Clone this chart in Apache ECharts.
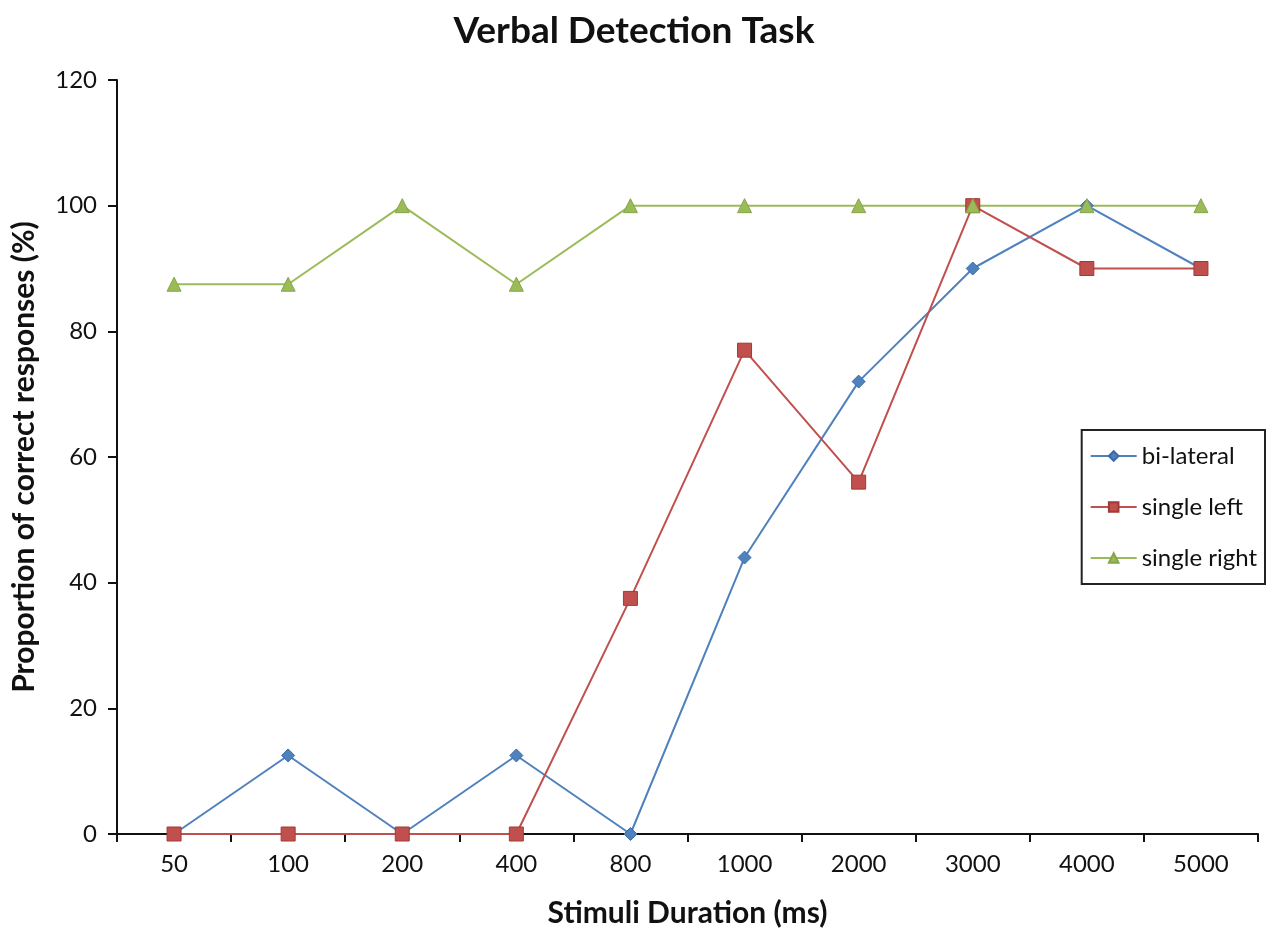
<!DOCTYPE html>
<html><head><meta charset="utf-8">
<script src="https://cdn.jsdelivr.net/npm/echarts@6/dist/echarts.min.js"></script>
<style>html,body{margin:0;padding:0;background:#fff}#c{width:1268px;height:929px}</style>
</head><body><div id="c"></div>
<script>
const categories = ['50','100','200','400','800','1000','2000','3000','4000','5000'];
const biLateral = [0, 12.5, 0, 12.5, 0, 44, 72, 90, 100, 90];
const singleLeft = [0, 0, 0, 0, 37.5, 77, 56, 100, 90, 90];
const singleRight = [87.5, 87.5, 100, 87.5, 100, 100, 100, 100, 100, 100];
const yTicks = [0, 20, 40, 60, 80, 100, 120];

const FONT = 'Lato, "Open Sans", sans-serif';
const chart = echarts.init(document.getElementById('c'));
function mk(name, data, color, symbol, size, border) {
  return {
    name, type: 'line', data, symbol, symbolSize: size,
    lineStyle: { color, width: 2 },
    itemStyle: { color, borderColor: border, borderWidth: 1 },
    emphasis: { disabled: true }
  };
}
chart.setOption({
  animation: false,
  textStyle: { fontFamily: FONT },
  title: {
    text: 'Verbal Detection Task', left: 'center', top: 8,
    textStyle: { fontFamily: FONT, fontSize: 37, fontWeight: 'bold', color: '#111' }
  },
  grid: { left: 117, right: 10, top: 80, bottom: 95, outerBoundsMode: 'none', containLabel: false },
  legend: {
    orient: 'vertical', right: 3, top: 430,
    padding: [14, 8, 14, 8], itemGap: 27,
    borderColor: '#222', borderWidth: 2,
    itemWidth: 46, itemHeight: 12,
    textStyle: { fontFamily: FONT, fontSize: 24, color: '#111' },
    data: ['bi-lateral', 'single left', 'single right']
  },
  xAxis: {
    type: 'category', data: categories, boundaryGap: true,
    name: 'Stimuli Duration (ms)', nameLocation: 'middle', nameGap: 64,
    nameTextStyle: { fontFamily: FONT, fontSize: 30, fontWeight: 'bold', color: '#111' },
    axisLine: { lineStyle: { color: '#111', width: 2 } },
    axisTick: { show: true, length: 8, interval: 0, lineStyle: { color: '#111', width: 2 } },
    axisLabel: { fontFamily: FONT, fontSize: 24, color: '#111', margin: 18, interval: 0 },
    splitLine: { show: false }
  },
  yAxis: {
    type: 'value', min: 0, max: 120, interval: 20,
    name: 'Proportion of correct responses (%)', nameLocation: 'middle', nameGap: 78,
    nameTextStyle: { fontFamily: FONT, fontSize: 30, fontWeight: 'bold', color: '#111' },
    axisLine: { show: true, lineStyle: { color: '#111', width: 2 } },
    axisTick: { show: true, length: 9, lineStyle: { color: '#111', width: 2 } },
    axisLabel: { fontFamily: FONT, fontSize: 24, color: '#111', margin: 20,
      formatter: v => yTicks.includes(v) ? String(v) : '' },
    splitLine: { show: false }
  },
  series: [
    mk('bi-lateral', biLateral, '#4F81BD', 'diamond', 13, '#3A6AA5'),
    mk('single left', singleLeft, '#C0504D', 'rect', 14, '#A03A37'),
    mk('single right', singleRight, '#9BBB59', 'triangle', 14, '#86A548')
  ]
});
</script>
</body></html>
